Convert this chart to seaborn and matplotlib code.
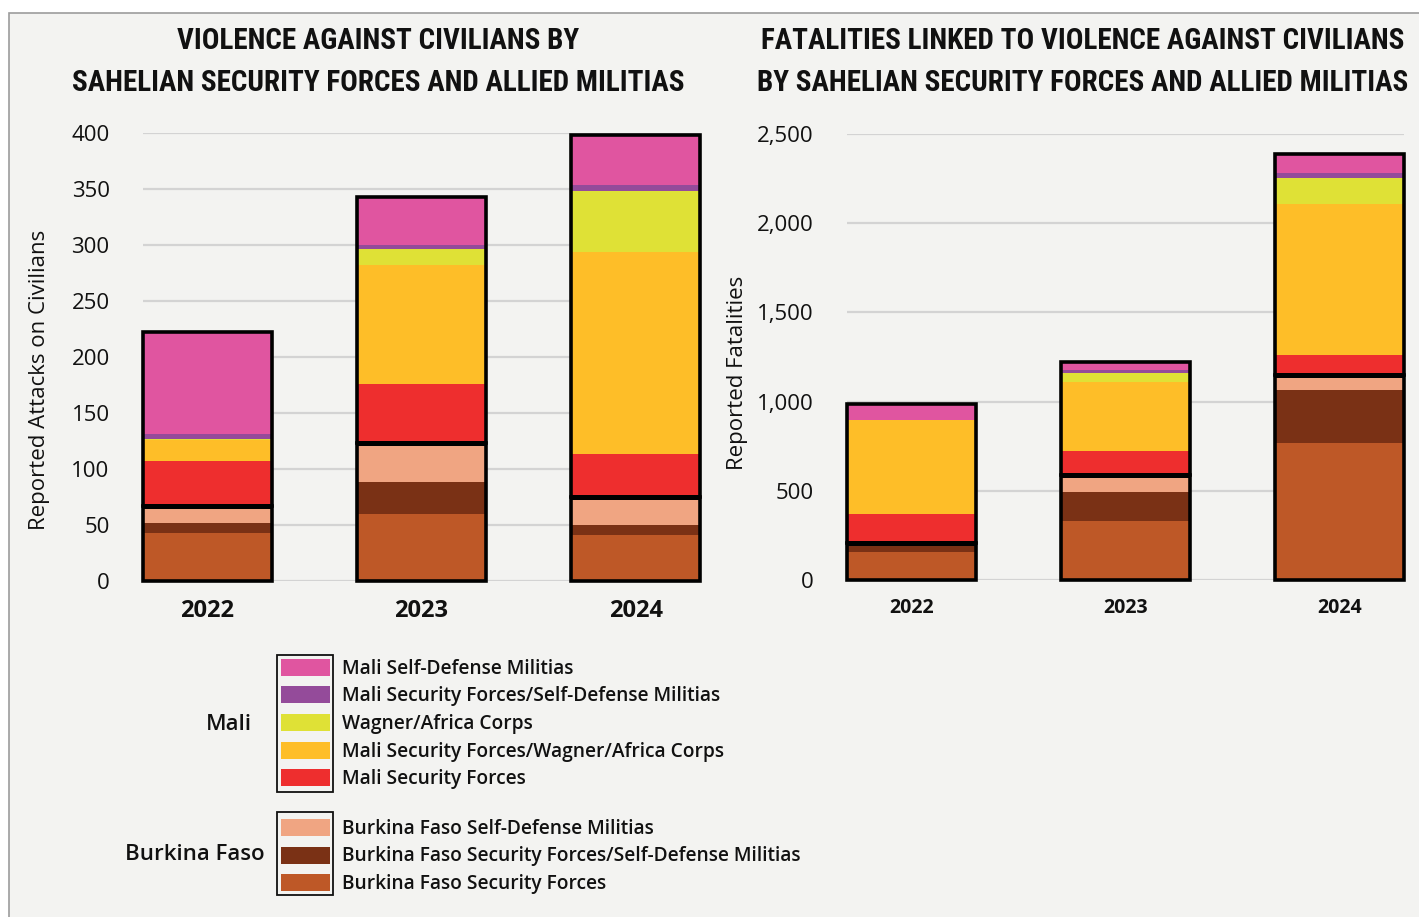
import matplotlib
matplotlib.use("Agg")
import matplotlib.pyplot as plt
from matplotlib.patches import Rectangle
import numpy as np
import pandas as pd
import seaborn as sns

# ---------------- data ----------------
years = ["2022", "2023", "2024"]

# stacking order, bottom to top
series_names = [
    "Burkina Faso Security Forces",
    "Burkina Faso Security Forces/Self-Defense Militias",
    "Burkina Faso Self-Defense Militias",
    "Mali Security Forces",
    "Mali Security Forces/Wagner/Africa Corps",
    "Wagner/Africa Corps",
    "Mali Security Forces/Self-Defense Militias",
    "Mali Self-Defense Militias",
]
series_colors = [
    "#BE5827",  # BF security forces
    "#7A3115",  # BF security forces / self-defense militias
    "#F0A582",  # BF self-defense militias
    "#EE2E2E",  # Mali security forces
    "#FEBE28",  # Mali security forces / Wagner
    "#DFE136",  # Wagner / Africa Corps
    "#944B9A",  # Mali security forces / self-defense militias
    "#E055A0",  # Mali self-defense militias
]

# reported attacks on civilians
attacks_bf_sf = [43, 60, 41]
attacks_bf_sf_sdm = [9, 28, 9]
attacks_bf_sdm = [15, 35, 25]
attacks_mali_sf = [40, 53, 38]
attacks_mali_sf_wagner = [19, 106, 181]
attacks_wagner = [1, 14, 54]
attacks_mali_sf_sdm = [4, 4, 6]
attacks_mali_sdm = [91, 43, 44]

# reported fatalities
fatal_bf_sf = [157, 331, 768]
fatal_bf_sf_sdm = [34, 162, 298]
fatal_bf_sdm = [15, 95, 84]
fatal_mali_sf = [164, 135, 112]
fatal_mali_sf_wagner = [527, 387, 847]
fatal_wagner = [0, 51, 146]
fatal_mali_sf_sdm = [0, 17, 28]
fatal_mali_sdm = [88, 42, 105]

attack_ticks = [0, 50, 100, 150, 200, 250, 300, 350, 400]
fatal_ticks = [0, 500, 1000, 1500, 2000, 2500]

mali_legend = [
    "Mali Self-Defense Militias",
    "Mali Security Forces/Self-Defense Militias",
    "Wagner/Africa Corps",
    "Mali Security Forces/Wagner/Africa Corps",
    "Mali Security Forces",
]
bf_legend = [
    "Burkina Faso Self-Defense Militias",
    "Burkina Faso Security Forces/Self-Defense Militias",
    "Burkina Faso Security Forces",
]

# ---------------- style ----------------
sns.set_theme(style="white")
BODY = ["Open Sans", "DejaVu Sans"]
TITLE = ["Roboto Condensed", "Open Sans Condensed", "DejaVu Sans"]
plt.rcParams["font.family"] = BODY

W, H = 1419, 917
BG = "#F3F3F1"


def fx(px):
    return px / W


def fy(py):
    return 1 - py / H


fig = plt.figure(figsize=(W / 100, H / 100), dpi=100)
fig.patch.set_facecolor("white")
panel = Rectangle((fx(8.5), -0.05), 1.1, fy(12.5) + 0.05,
                  transform=fig.transFigure, facecolor=BG,
                  edgecolor="#9c9c9c", linewidth=1.2, zorder=-10)
fig.patches.append(panel)


def stacked_panel(ax, segments, ticks, fmt, year_size):
    segs = np.array(segments, dtype=float)
    cum = np.cumsum(segs, axis=0)
    # draw tallest cumulative first so lower layers sit on top
    for i in range(len(segs) - 1, -1, -1):
        df = pd.DataFrame({"year": years, "value": cum[i]})
        sns.barplot(data=df, x="year", y="value", color=series_colors[i],
                    width=0.6, saturation=1, linewidth=0, errorbar=None,
                    ax=ax, zorder=2)
    x = np.arange(len(years))
    bf_total = cum[2]
    grand = cum[-1]
    ax.bar(x, bf_total, width=0.6, fill=False, edgecolor="black",
           linewidth=2.6, clip_on=False, zorder=5)
    ax.bar(x, grand - bf_total, bottom=bf_total, width=0.6, fill=False,
           edgecolor="black", linewidth=2.6, clip_on=False, zorder=5)
    ax.hlines(bf_total, x - 0.3, x + 0.3, color="black", linewidth=3.6,
              zorder=6)

    ax.set_facecolor("none")
    ax.set_xlim(-0.3, 2.3)
    ax.set_ylim(ticks[0], ticks[-1])
    ax.set_yticks(ticks)
    ax.set_yticklabels([fmt(t) for t in ticks], fontsize=16, color="#111111")
    ax.yaxis.grid(True, color="#d3d3d3", linewidth=1.6)
    ax.xaxis.grid(False)
    ax.set_axisbelow(True)
    for s in ax.spines.values():
        s.set_visible(False)
    ax.tick_params(axis="y", length=0, pad=24)
    ax.tick_params(axis="x", length=0, pad=13)
    ax.set_xticks(x)
    ax.set_xticklabels(years, fontsize=year_size, fontweight="bold",
                       color="#111111")
    ax.set_xlabel("")
    ax.set_ylabel("")


ax1 = fig.add_axes([fx(143), fy(581), fx(700) - fx(143), (581 - 133) / H])
stacked_panel(ax1,
              [attacks_bf_sf, attacks_bf_sf_sdm, attacks_bf_sdm,
               attacks_mali_sf, attacks_mali_sf_wagner, attacks_wagner,
               attacks_mali_sf_sdm, attacks_mali_sdm],
              attack_ticks, lambda t: f"{t:d}", 17)

ax2 = fig.add_axes([fx(847), fy(580), fx(1404) - fx(847), (580 - 134) / H])
stacked_panel(ax2,
              [fatal_bf_sf, fatal_bf_sf_sdm, fatal_bf_sdm,
               fatal_mali_sf, fatal_mali_sf_wagner, fatal_wagner,
               fatal_mali_sf_sdm, fatal_mali_sdm],
              fatal_ticks, lambda t: f"{t:,d}", 14)

# titles
title_kw = dict(ha="center", va="center", family=TITLE, fontweight="bold",
                fontstretch="condensed", fontsize=21, linespacing=1.65,
                color="#111111")
fig.text(fx(378), fy(62),
         "VIOLENCE AGAINST CIVILIANS BY\nSAHELIAN SECURITY FORCES AND ALLIED MILITIAS",
         **title_kw)
fig.text(fx(1083), fy(62),
         "FATALITIES LINKED TO VIOLENCE AGAINST CIVILIANS\nBY SAHELIAN SECURITY FORCES AND ALLIED MILITIAS",
         **title_kw)

# axis titles
fig.text(fx(40), fy(380), "Reported Attacks on Civilians", rotation=90,
         ha="center", va="center", fontsize=16, color="#111111")
fig.text(fx(737), fy(373), "Reported Fatalities", rotation=90,
         ha="center", va="center", fontsize=16, color="#111111")

# grouped legend
mali_colors = [series_colors[i] for i in (7, 6, 5, 4, 3)]
bf_colors = [series_colors[i] for i in (2, 1, 0)]


def legend_group(label, label_x, names, colors, y_top, y_bot, centers):
    fig.patches.append(Rectangle((fx(277), fy(y_bot)), fx(333) - fx(277),
                                 (y_bot - y_top) / H,
                                 transform=fig.transFigure, fill=False,
                                 edgecolor="#111111", linewidth=1.3))
    for name, col, cy in zip(names, colors, centers):
        fig.patches.append(Rectangle((fx(281), fy(cy + 8.5)),
                                     fx(330) - fx(281), 17 / H,
                                     transform=fig.transFigure,
                                     facecolor=col, edgecolor="none"))
        fig.text(fx(342), fy(cy + 1.5), name, ha="left", va="center",
                 fontsize=13.8, fontweight="semibold", color="#111111")
    fig.text(fx(label_x), fy((y_top + y_bot) / 2 + 1), label, ha="right",
             va="center", fontsize=16, fontweight="semibold",
             color="#111111")


legend_group("Mali", 252, mali_legend, mali_colors, 655, 792,
             [667, 694.5, 722, 750, 777.5])
legend_group("Burkina Faso", 265, bf_legend, bf_colors, 812, 895,
             [827, 855, 882])

fig.savefig("out.png", dpi=100, facecolor=fig.get_facecolor())
